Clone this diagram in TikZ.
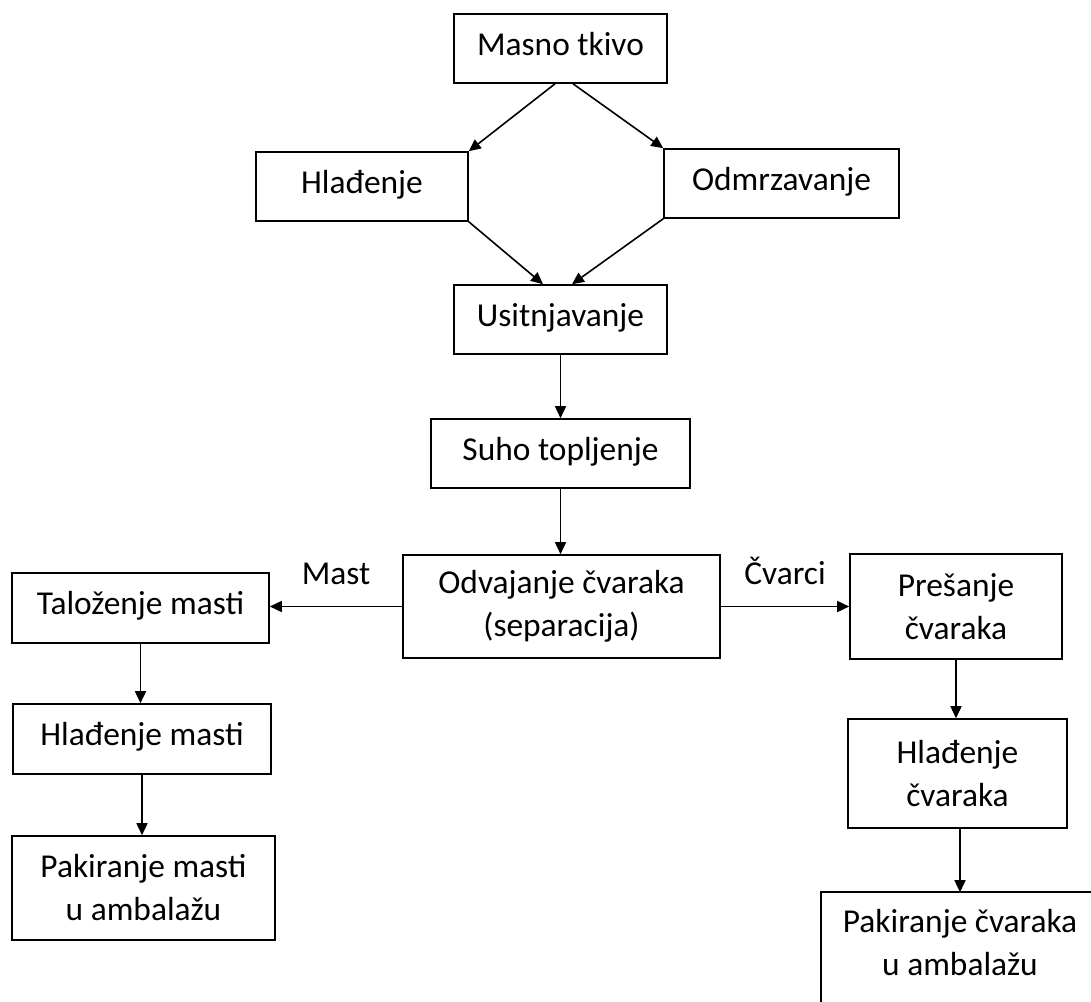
\documentclass[tikz,border=0pt]{standalone}
\usepackage{fontspec}
\setmainfont{Carlito}
\usetikzlibrary{arrows.meta}
\tikzset{every picture/.style={line width=0.8pt}}

\begin{document}
\begin{tikzpicture}[x=0.5pt, y=-0.5pt,
    korak/.style={draw, rectangle, align=center, inner sep=2pt, font=\fontsize{16.7pt}{21.5pt}\selectfont},
    jedan/.style={text height=11pt, text depth=4.5pt},
    tok/.style={-{Triangle[length=6pt, width=5.5pt]}},
    oznaka/.style={font=\fontsize{16.7pt}{21.5pt}\selectfont, above=7pt}]
\useasboundingbox (0,0) rectangle (1091,1001);

    % glavni tok
\node[korak, jedan, minimum width=106.5pt, minimum height=34.5pt] (tkivo) at (560.5,48.5) {Masno tkivo};
\node[korak, jedan, minimum width=106pt, minimum height=34.5pt] (hladenje) at (362,186.5) {Hlađenje};
\node[korak, jedan, minimum width=117.5pt, minimum height=34.5pt] (odmrz) at (781.5,183.5) {Odmrzavanje};
\node[korak, jedan, minimum width=106.5pt, minimum height=34.5pt] (usitnj) at (560.5,319.5) {Usitnjavanje};
\node[korak, jedan, minimum width=129.5pt, minimum height=34.5pt] (suho) at (560.5,453.5) {Suho topljenje};
\node[korak, minimum width=158.5pt, minimum height=51.5pt] (odvaj) at (561.5,606.5) {Odvajanje čvaraka\\(separacija)};

    % mast
\node[korak, jedan, minimum width=128.5pt, minimum height=35pt] (talozenje) at (140.5,608) {Taloženje masti};
\node[korak, jedan, minimum width=129pt, minimum height=35pt] (hladmasti) at (142,739) {Hlađenje masti};
\node[korak, minimum width=131.5pt, minimum height=52pt] (pakmasti) at (143.5,888) {Pakiranje masti\\u ambalažu};

    % cvarci
\node[korak, minimum width=106pt, minimum height=52.5pt] (presanje) at (956,606.5) {Prešanje\\čvaraka};
\node[korak, minimum width=109.5pt, minimum height=54.5pt] (hladcv) at (957.5,773.5) {Hlađenje\\čvaraka};
\node[korak, draw=none, minimum width=138pt, minimum height=50pt] (pakcv) at (960,943) {Pakiranje čvaraka\\u ambalažu};
\draw ([yshift=-20pt]pakcv.south west) |- ([xshift=20pt]pakcv.north east);

    % strelice
\draw[tok] ([xshift=-2.75pt]tkivo.south) -- (hladenje.north east);
\draw[tok] ([xshift=6.25pt]tkivo.south) -- (odmrz.north west);
\draw[tok] (hladenje.south east) -- ([xshift=-8.75pt]usitnj.north);
\draw[tok] (odmrz.south west) -- ([xshift=5.75pt]usitnj.north);
\draw[tok] (usitnj) -- (suho);
\draw[tok] (suho.south) -- (suho.south |- odvaj.north);
\draw[tok] (odvaj.west) -- (odvaj.west -| talozenje.east) node[oznaka, midway] {Mast};
\draw[tok] (odvaj.east) -- (odvaj.east -| presanje.west) node[oznaka, midway] {Čvarci};
\draw[tok] (talozenje.south) -- (talozenje.south |- hladmasti.north);
\draw[tok] (hladmasti.south) -- (hladmasti.south |- pakmasti.north);
\draw[tok] (presanje.south) -- (presanje.south |- hladcv.north);
\draw[tok] ([xshift=1.25pt]hladcv.south) -- ([xshift=1.25pt]hladcv.south |- pakcv.north);
\end{tikzpicture}
\end{document}
